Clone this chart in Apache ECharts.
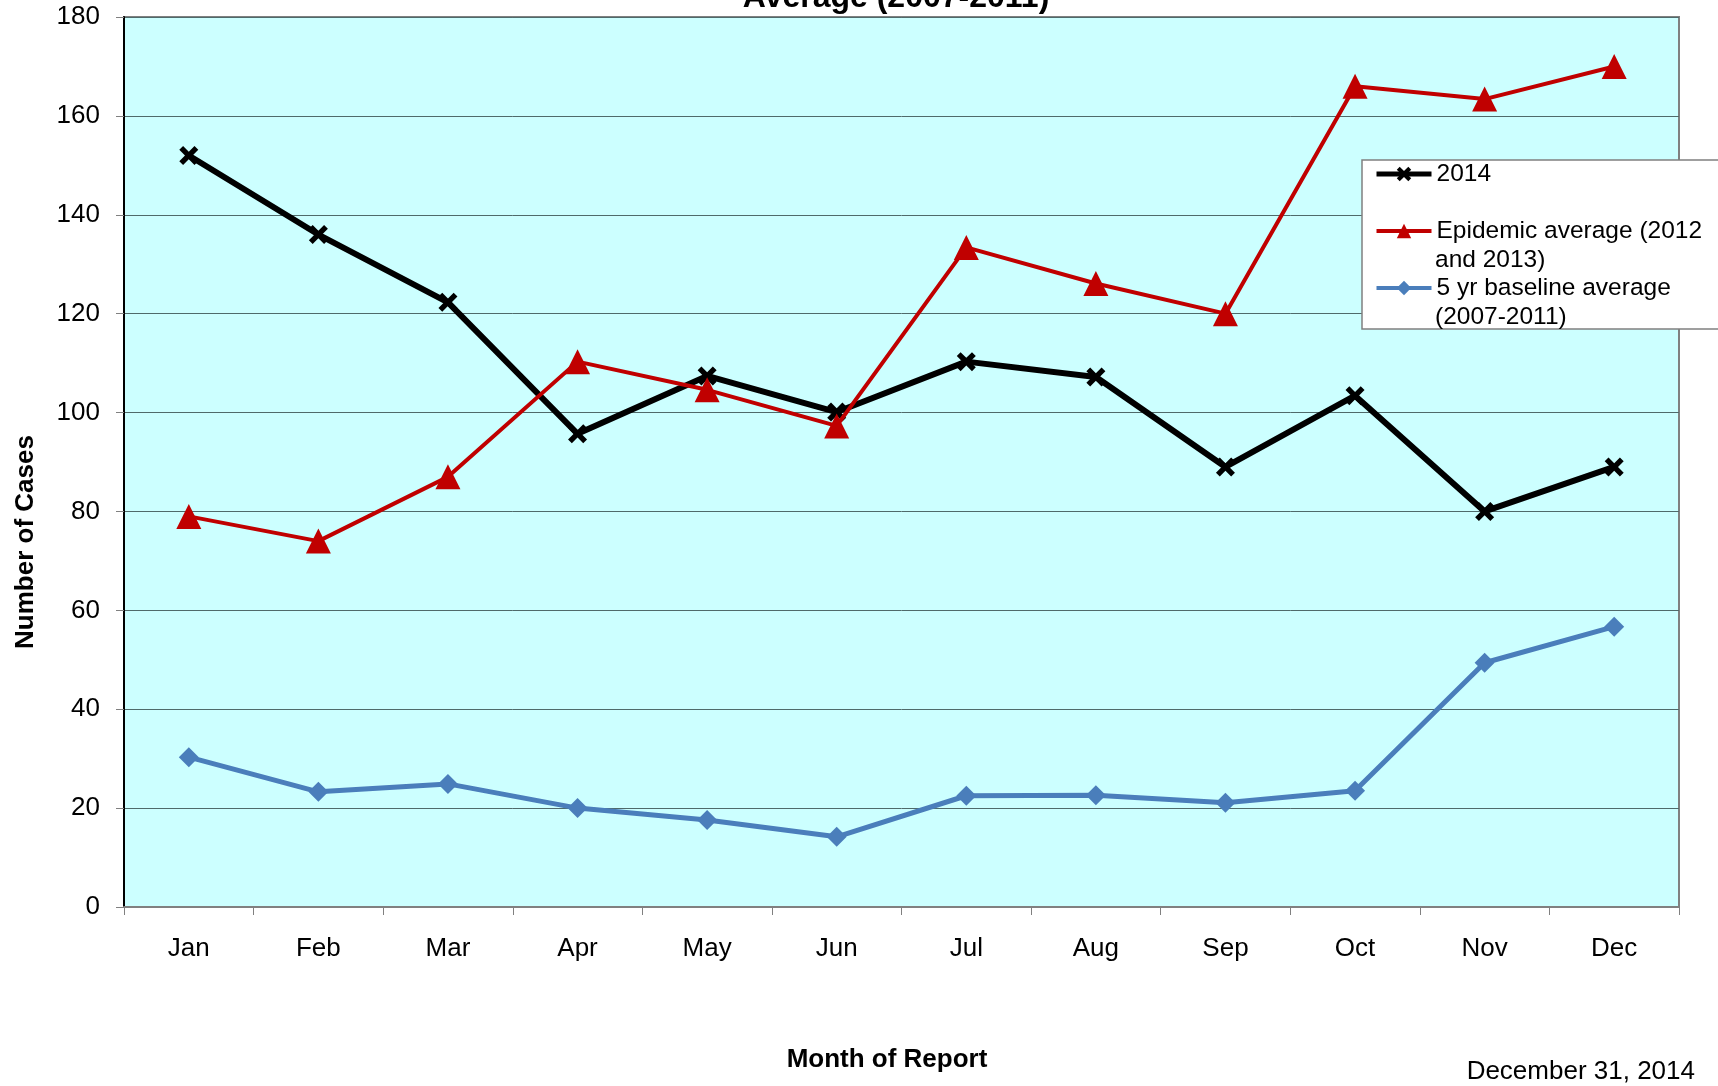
<!DOCTYPE html>
<html>
<head>
<meta charset="utf-8">
<script src="https://cdn.jsdelivr.net/npm/echarts@6/dist/echarts.min.js"></script>
<style>
html,body{margin:0;padding:0;background:#fff;}
#chart{width:1718px;height:1086px;}
</style>
</head>
<body>
<div id="chart"></div>
<script>
const months = ['Jan','Feb','Mar','Apr','May','Jun','Jul','Aug','Sep','Oct','Nov','Dec'];
const cases2014 = [152, 136, 122.3, 95.7, 107.4, 100.1, 110.3, 107.2, 89, 103.4, 80, 89];
const epidemicAvg = [79, 74, 87, 110.3, 104.6, 97.3, 133.4, 126.1, 120, 166, 163.4, 170];
const baselineAvg = [30.3, 23.3, 24.9, 20, 17.6, 14.2, 22.5, 22.6, 21.1, 23.5, 49.4, 56.7];
const yTicks = [0, 20, 40, 60, 80, 100, 120, 140, 160, 180];

const seriesNames = ['2014', 'Epidemic average (2012 and 2013)', '5 yr baseline average (2007-2011)'];
const legendFirstLine = {
  '2014': '2014',
  'Epidemic average (2012 and 2013)': 'Epidemic average (2012',
  '5 yr baseline average (2007-2011)': '5 yr baseline average'
};
const colors = ['#000000', '#C00000', '#4A7EBB'];

const FONT = 'Liberation Sans, Arial, sans-serif';
const xMark = 'path://M2,0 L5,3 L8,0 L10,2 L7,5 L10,8 L8,10 L5,7 L2,10 L0,8 L3,5 L0,2 Z';

const chart = echarts.init(document.getElementById('chart'));
chart.setOption({
  animation: false,
  backgroundColor: '#ffffff',
  textStyle: { fontFamily: FONT },
  grid: {
    left: 124, right: 39, top: 17, bottom: 179,
    show: true, backgroundColor: '#CCFFFF',
    borderColor: '#808080', borderWidth: 2
  },
  legend: {
    orient: 'vertical',
    left: 1374, top: 160,
    padding: 0,
    itemGap: 29,
    itemWidth: 55, itemHeight: 18,
    z: 20,
    data: [
      { name: seriesNames[0], lineStyle: { width: 5 } },
      { name: seriesNames[1], lineStyle: { width: 4 } },
      { name: seriesNames[2], lineStyle: { width: 4 } }
    ],
    formatter: n => legendFirstLine[n],
    textStyle: { fontSize: 24.5, color: '#000', fontFamily: FONT, lineHeight: 28 }
  },
  xAxis: {
    type: 'category',
    data: months,
    boundaryGap: true,
    axisLine: { lineStyle: { color: '#808080', width: 2 } },
    axisTick: { show: true, length: 8, alignWithLabel: false, lineStyle: { color: '#808080', width: 1 } },
    axisLabel: { fontSize: 26, color: '#000', margin: 29, fontFamily: FONT },
    splitLine: { show: false }
  },
  yAxis: {
    type: 'value',
    min: yTicks[0], max: yTicks[yTicks.length - 1], interval: 20,
    axisLine: { show: true, lineStyle: { color: '#000', width: 2 } },
    axisTick: { show: true, length: 8, lineStyle: { color: '#808080', width: 1 } },
    axisLabel: { fontSize: 26, color: '#000', margin: 24, fontFamily: FONT, padding: [4, 0, 0, 0] },
    splitLine: { show: true, lineStyle: { color: '#4f6a6a', width: 1 } }
  },
  series: [
    {
      name: seriesNames[0], type: 'line', data: cases2014,
      symbol: xMark, symbolSize: 19,
      lineStyle: { color: colors[0], width: 6 },
      itemStyle: { color: colors[0] },
      z: 3
    },
    {
      name: seriesNames[1], type: 'line', data: epidemicAvg,
      symbol: 'triangle', symbolSize: [25, 25],
      lineStyle: { color: colors[1], width: 4 },
      itemStyle: { color: colors[1] },
      z: 4
    },
    {
      name: seriesNames[2], type: 'line', data: baselineAvg,
      symbol: 'diamond', symbolSize: [20, 20],
      lineStyle: { color: colors[2], width: 5 },
      itemStyle: { color: colors[2] },
      z: 2
    }
  ],
  graphic: [
    {
      type: 'rect', z: 10, silent: true,
      shape: { x: 1362, y: 160, width: 420, height: 169 },
      style: { fill: '#ffffff', stroke: '#808080', lineWidth: 1.5 }
    },
    {
      type: 'text', z: 21, silent: true, x: 1435, y: 260,
      style: { text: 'and 2013)', fontSize: 24.5, fill: '#000', fontFamily: FONT, verticalAlign: 'middle' }
    },
    {
      type: 'text', z: 21, silent: true, x: 1435, y: 317,
      style: { text: '(2007-2011)', fontSize: 24.5, fill: '#000', fontFamily: FONT, verticalAlign: 'middle' }
    },
    {
      type: 'text', silent: true,
      x: 896, y: -2,
      style: { text: 'Average (2007-2011)', fontSize: 32, fontWeight: 'bold', fill: '#000', fontFamily: FONT, align: 'center', verticalAlign: 'middle' }
    },
    {
      type: 'text', silent: true,
      x: 26, y: 542, rotation: Math.PI / 2,
      style: { text: 'Number of Cases', fontSize: 26, fontWeight: 'bold', fill: '#000', fontFamily: FONT, align: 'center', verticalAlign: 'middle' }
    },
    {
      type: 'text', silent: true,
      x: 887, y: 1060,
      style: { text: 'Month of Report', fontSize: 26, fontWeight: 'bold', fill: '#000', fontFamily: FONT, align: 'center', verticalAlign: 'middle' }
    },
    {
      type: 'text', silent: true,
      x: 1695, y: 1072,
      style: { text: 'December 31, 2014', fontSize: 26, fill: '#000', fontFamily: FONT, align: 'right', verticalAlign: 'middle' }
    }
  ]
});
</script>
</body>
</html>
